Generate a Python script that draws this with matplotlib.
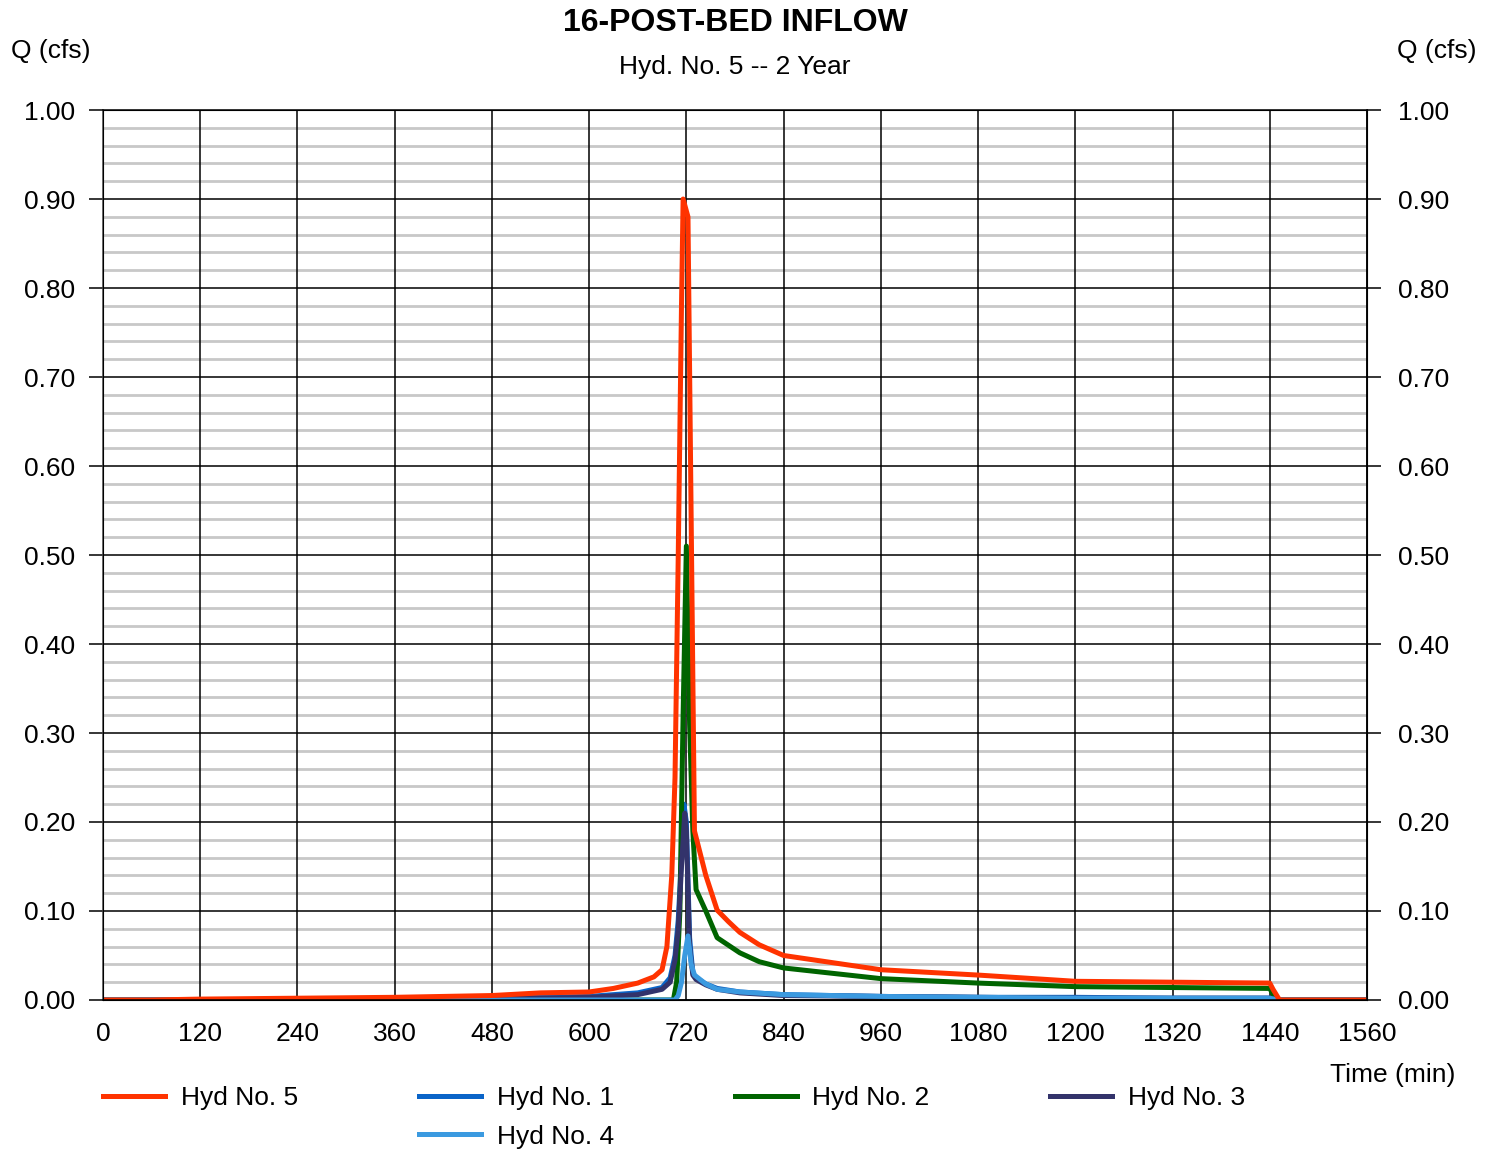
import numpy as np
import matplotlib.pyplot as plt
from matplotlib.lines import Line2D
from matplotlib.ticker import MultipleLocator

plt.rcParams['font.family'] = ['Liberation Sans', 'DejaVu Sans']

# Hyd No. 5 (total inflow)
t5 = [0, 60, 120, 240, 360, 480, 540, 600, 630, 660, 680, 690, 696, 702, 706, 710, 714, 716,
      722, 730, 744, 758, 772, 786, 810, 840, 900, 960, 1080, 1200, 1320, 1440, 1444, 1452, 1560]
q5 = [0, 0, 0.001, 0.002, 0.003, 0.005, 0.008, 0.009, 0.013, 0.019, 0.026, 0.034, 0.06, 0.14,
      0.25, 0.50, 0.78, 0.90, 0.88, 0.19, 0.14, 0.101, 0.088, 0.076, 0.062, 0.050, 0.042, 0.034,
      0.028, 0.021, 0.020, 0.019, 0.012, 0, 0]

# Hyd No. 1
t1 = [0, 120, 240, 360, 480, 540, 600, 660, 690, 700, 706, 710, 714, 717, 720, 724, 728, 732,
      744, 758, 786, 840, 960, 1080, 1200, 1320, 1440, 1450, 1560]
q1 = [0, 0, 0.001, 0.001, 0.002, 0.003, 0.004, 0.008, 0.014, 0.025, 0.05, 0.09, 0.16, 0.22, 0.20,
      0.07, 0.03, 0.025, 0.018, 0.013, 0.009, 0.006, 0.004, 0.003, 0.003, 0.002, 0.002, 0, 0]

# Hyd No. 2
t2 = [0, 704, 708, 712, 716, 720, 724, 728, 732, 744, 758, 786, 810, 840, 900, 960, 1080, 1200,
      1320, 1440, 1448, 1560]
q2 = [0, 0, 0.02, 0.10, 0.32, 0.51, 0.31, 0.19, 0.124, 0.10, 0.07, 0.053, 0.043, 0.036, 0.030,
      0.024, 0.019, 0.015, 0.014, 0.013, 0, 0]

# Hyd No. 3
t3 = [0, 120, 240, 360, 480, 540, 600, 660, 690, 700, 706, 710, 714, 718, 720, 724, 728, 732,
      744, 758, 786, 840, 960, 1080, 1200, 1320, 1440, 1450, 1560]
q3 = [0, 0, 0.001, 0.001, 0.002, 0.002, 0.003, 0.006, 0.012, 0.02, 0.045, 0.08, 0.15, 0.21, 0.19,
      0.06, 0.028, 0.023, 0.017, 0.012, 0.008, 0.005, 0.004, 0.003, 0.002, 0.002, 0.002, 0, 0]

# Hyd No. 4
t4 = [0, 706, 710, 714, 718, 722, 726, 730, 744, 758, 786, 840, 960, 1200, 1440, 1450, 1560]
q4 = [0, 0, 0.005, 0.02, 0.05, 0.072, 0.04, 0.028, 0.018, 0.012, 0.009, 0.006, 0.004, 0.002,
      0.002, 0, 0]

fig = plt.figure(figsize=(14.94, 11.51), dpi=100)
ax = fig.add_axes([0.0689, 0.1312, 0.8461, 0.7732])

fs = 19
lw = 3.6
ax.plot(t1, q1, color='#0a64c8', lw=lw, label='Hyd No. 1')
ax.plot(t2, q2, color='#006400', lw=lw, label='Hyd No. 2')
ax.plot(t3, q3, color='#33336b', lw=lw, label='Hyd No. 3')
ax.plot(t4, q4, color='#3b9ae0', lw=lw, label='Hyd No. 4')
ax.plot(t5, q5, color='#ff3300', lw=lw, label='Hyd No. 5')

ax.set_xlim(0, 1560)
ax.set_ylim(0, 1.0)
ax.xaxis.set_major_locator(MultipleLocator(120))
ax.yaxis.set_major_locator(MultipleLocator(0.1))
ax.yaxis.set_minor_locator(MultipleLocator(0.02))
ax.yaxis.set_major_formatter(plt.FormatStrFormatter('%.2f'))
ax.grid(which='minor', axis='y', color='#c8c8c8', lw=2.0)
ax.grid(which='major', axis='both', color='black', lw=1.1)
ax.set_axisbelow(True)
# vertical grid lines go over the grey minor lines
ax.xaxis.set_zorder(0.6)
ax.tick_params(axis='y', which='major', length=10, width=1.1, labelsize=fs, pad=10)
ax.tick_params(axis='y', which='minor', length=0)
ax.tick_params(axis='x', length=0, labelsize=fs, pad=16)
for s in ax.spines.values():
    s.set_linewidth(1.1)
ax.spines['left'].set_color('#444444')

ax2 = ax.twinx()
ax2.set_ylim(0, 1.0)
ax2.yaxis.set_major_locator(MultipleLocator(0.1))
ax2.yaxis.set_major_formatter(plt.FormatStrFormatter('%.2f'))
ax2.tick_params(axis='y', length=10, width=1.1, labelsize=fs, pad=12)

fig.text(0.492, 0.980, '16-POST-BED INFLOW', ha='center', va='center', fontsize=23, fontweight='bold')
fig.text(0.492, 0.942, 'Hyd. No. 5 -- 2 Year', ha='center', va='center', fontsize=fs)
fig.text(0.034, 0.956, 'Q (cfs)', ha='center', va='center', fontsize=fs)
fig.text(0.962, 0.956, 'Q (cfs)', ha='center', va='center', fontsize=fs)
fig.text(0.932, 0.066, 'Time (min)', ha='center', va='center', fontsize=fs)

# legend fills column by column: a blank entry keeps Hyd No. 4 under Hyd No. 1
h, l = ax.get_legend_handles_labels()
blank = Line2D([], [], color='none')
handles = [h[4], blank, h[0], h[3], h[1], h[2]]
labels = [l[4], '', l[0], l[3], l[1], l[2]]
fig.legend(handles, labels, loc='upper left',
           bbox_to_anchor=(0.0533, 0.077), ncol=4, frameon=False, fontsize=fs,
           handlelength=2.35, handletextpad=0.6, columnspacing=4.57, labelspacing=0.55)

fig.savefig('out.png', dpi=100)
